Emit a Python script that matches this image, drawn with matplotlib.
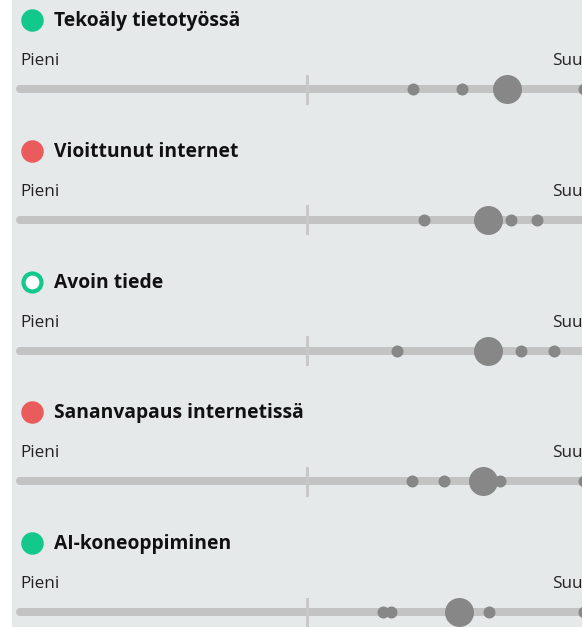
import matplotlib.pyplot as plt

# data: topics, status colour, ring style, dot values (0 = Pieni, 100 = Suuri)
topics = ['Tekoäly tietotyössä', 'Vioittunut internet', 'Avoin tiede',
          'Sananvapaus internetissä', 'AI-koneoppiminen']
status = ['#12c98b', '#ea5b5c', '#12c98b', '#ea5b5c', '#12c98b']
hollow = [False, False, True, False, False]
small_dots = [
    [68.4, 77.0, 98.2],
    [70.3, 85.5, 90.1],
    [65.6, 87.2, 93.1],
    [68.3, 73.9, 83.6, 98.2],
    [63.3, 64.6, 81.7, 98.2],
]
big_dot = [84.9, 81.6, 81.6, 80.6, 76.5]

W, H = 582, 627
fig = plt.figure(figsize=(W / 100, H / 100), dpi=100, facecolor='white')
left_px = 12
ax = fig.add_axes([left_px / W, 0, 1 - left_px / W, 1])
ax.set_facecolor('#e6e9ea')

# pixel mapping: value 0 -> x=20px, value 100 -> x=594px
scale = 5.74
ax.set_xlim((left_px - 20) / scale, (W - 20) / scale)
ax.set_ylim(H, 0)
ax.axis('off')
ax.add_patch(plt.Rectangle((-10, 0), 200, H, color='#e6e9ea', zorder=0))

px = 0.72  # points per pixel
row_gap = 130.8
for i, t in enumerate(topics):
    y_line = 89 + i * row_gap

    # status icon
    if hollow[i]:
        ax.plot(2.1, y_line - 69, 'o', ms=18 * px, mfc='white', mec=status[i], mew=4.2 * px)
    else:
        ax.plot(2.1, y_line - 69, 'o', ms=22.5 * px, color=status[i], mew=0)
    ax.text(6.0, y_line - 63, t, fontsize=13.9, fontweight='bold', family='Open Sans',
            color='#111111', va='baseline', ha='left')
    ax.text(0, y_line - 24, 'Pieni', fontsize=12.3, family='Open Sans', color='#222222',
            va='baseline', ha='left')
    ax.text(100, y_line - 24, 'Suuri', fontsize=12.3, family='Open Sans', color='#222222',
            va='baseline', ha='right', clip_on=False)

    # scale line and middle tick
    ax.plot([0, 100], [y_line, y_line], color='#c3c3c3', lw=8 * px,
            solid_capstyle='round', zorder=2)
    ax.plot([50, 50], [y_line - 13.5, y_line + 13.5], color='#c8c8c8',
            lw=3 * px, zorder=2)

    ax.scatter(small_dots[i], [y_line] * len(small_dots[i]), s=(12 * px) ** 2,
               color='#878787', lw=0, zorder=3)
    ax.scatter([big_dot[i]], [y_line], s=(29 * px) ** 2, color='#878787',
               lw=0, zorder=4)

fig.savefig('out.png', dpi=100, facecolor='white')
